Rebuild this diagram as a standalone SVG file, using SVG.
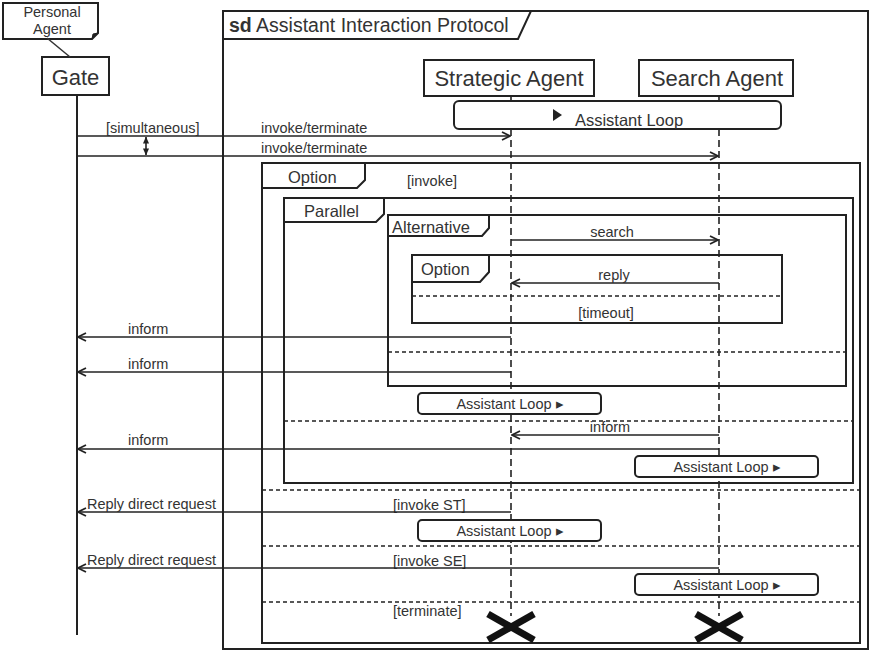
<svg xmlns="http://www.w3.org/2000/svg" width="872" height="651" viewBox="0 0 872 651">
<defs>
<style>
text{font-family:"Liberation Sans",Arial,sans-serif;fill:#333}
.frm{fill:none;stroke:#222;stroke-width:2}
.tab{fill:#fff;stroke:#222;stroke-width:2}
.box{fill:#fff;stroke:#222;stroke-width:2}
.msg{fill:none;stroke:#222;stroke-width:1.6;marker-end:url(#arr)}
.sep{fill:none;stroke:#222;stroke-width:1.6;stroke-dasharray:4 3}
.life{fill:none;stroke:#222;stroke-width:1.6;stroke-dasharray:7 4}
.m{font-size:14.5px}
.lbl{font-size:16.5px}
.al{font-size:14.5px}
.name{font-size:22px}
.loop{fill:#fff;stroke:#222;stroke-width:2}
.x{stroke:#111;stroke-width:7;stroke-linecap:butt}
</style>
<marker id="arr" viewBox="0 0 10 10" refX="9" refY="5" markerWidth="10" markerHeight="10" markerUnits="userSpaceOnUse" orient="auto-start-reverse">
<path d="M1,1 L9,5 L1,9" fill="none" stroke="#222" stroke-width="1.8"/>
</marker>
<marker id="sarr" viewBox="0 0 8 8" refX="7.5" refY="4" markerWidth="7" markerHeight="7" markerUnits="userSpaceOnUse" orient="auto-start-reverse">
<path d="M0,0.5 L8,4 L0,7.5 Z" fill="#222"/>
</marker>
</defs>

<g id="sd-frame">
<rect class="frm" x="223" y="11" width="645" height="638"/>
<path class="tab" d="M223,11 H531 L518,39 H223 Z"/>
<text x="229" y="32" font-size="19.5"><tspan font-weight="bold">sd</tspan> Assistant Interaction Protocol</text>
</g>

<g id="personal-agent">
<path class="box" d="M3,3 H98 V33 L92,39 H3 Z"/>
<path d="M92,39 L98,33 L93,34 Z" fill="#222" stroke="#222" stroke-width="1"/>
<text x="52" y="17" font-size="14.5" text-anchor="middle">Personal</text>
<text x="52" y="34" font-size="14.5" text-anchor="middle">Agent</text>
</g>

<g id="gate">
<rect class="box" x="42" y="57" width="67" height="38"/>
<text class="name" x="75.5" y="85" text-anchor="middle">Gate</text>
</g>

<g id="strategic-agent">
<rect class="box" x="424" y="60" width="170" height="36"/>
<text class="name" x="509" y="86" text-anchor="middle">Strategic Agent</text>
</g>

<g id="search-agent">
<rect class="box" x="639" y="60" width="154" height="36"/>
<text class="name" x="717" y="86" text-anchor="middle">Search Agent</text>
</g>

<g id="lifelines">
<line x1="77" y1="95" x2="77" y2="635" stroke="#222" stroke-width="2"/>
<line class="life" x1="511" y1="96" x2="511" y2="616"/>
<line class="life" x1="719" y1="96" x2="719" y2="616"/>
<line x1="47" y1="38" x2="70" y2="57" stroke="#333" stroke-width="1.5"/>
</g>

<g id="option-frame">
<rect class="frm" x="262" y="163" width="598" height="480"/>
<path class="tab" d="M262,163 H365 V180 L357,188 H262 Z"/>
<text class="lbl" x="288" y="183">Option</text>
<text class="m" x="407" y="186">[invoke]</text>
<line class="sep" x1="262" y1="490" x2="860" y2="490"/>
<line class="sep" x1="262" y1="546" x2="860" y2="546"/>
<line class="sep" x1="262" y1="602" x2="860" y2="602"/>
<text class="m" x="393" y="510">[invoke ST]</text>
<text class="m" x="393" y="566">[invoke SE]</text>
<text class="m" x="393" y="616">[terminate]</text>
</g>

<g id="parallel-frame">
<rect class="frm" x="284" y="198" width="569" height="285"/>
<path class="tab" d="M284,198 H384 V214 L376,222 H284 Z"/>
<text class="lbl" x="304" y="217">Parallel</text>
<line class="sep" x1="284" y1="421" x2="853" y2="421"/>
</g>

<g id="alternative-frame">
<rect class="frm" x="388" y="215" width="458" height="171"/>
<path class="tab" d="M388,215 H489 V228 L482,236 H388 Z"/>
<text class="lbl" x="392" y="233">Alternative</text>
<line class="sep" x1="388" y1="352" x2="846" y2="352"/>
</g>

<g id="inner-option-frame">
<rect class="frm" x="412" y="255" width="370" height="68"/>
<path class="tab" d="M412,255 H489 V272 L480,282 H412 Z"/>
<text class="lbl" x="421" y="275">Option</text>
<line class="sep" x1="412" y1="296" x2="782" y2="296"/>
<text class="m" x="606" y="318" text-anchor="middle">[timeout]</text>
</g>

<g id="loop-top">
<rect class="loop" x="454" y="101" width="327" height="28" rx="5"/>
<polygon points="553,109 562,115 553,121" fill="#222"/>
<text x="629" y="126" font-size="16.5" text-anchor="middle">Assistant Loop</text>
</g>

<g id="loop-1">
<rect class="loop" x="418" y="393" width="183" height="21" rx="4"/>
<text class="al" x="510" y="409" text-anchor="middle">Assistant Loop ▸</text>
</g>
<g id="loop-2">
<rect class="loop" x="635" y="456" width="183" height="21" rx="4"/>
<text class="al" x="727" y="472" text-anchor="middle">Assistant Loop ▸</text>
</g>
<g id="loop-3">
<rect class="loop" x="418" y="520" width="183" height="21" rx="4"/>
<text class="al" x="510" y="536" text-anchor="middle">Assistant Loop ▸</text>
</g>
<g id="loop-4">
<rect class="loop" x="635" y="574" width="183" height="21" rx="4"/>
<text class="al" x="727" y="590" text-anchor="middle">Assistant Loop ▸</text>
</g>

<g id="connectors">
<line class="msg" x1="77" y1="136" x2="510" y2="136"/>
<line class="msg" x1="77" y1="156" x2="718" y2="156"/>
<line x1="146" y1="137" x2="146" y2="155" stroke="#222" stroke-width="1.6" marker-start="url(#sarr)" marker-end="url(#sarr)"/>
<line class="msg" x1="511" y1="240" x2="718" y2="240"/>
<line class="msg" x1="719" y1="283" x2="512" y2="283"/>
<line class="msg" x1="511" y1="337" x2="78" y2="337"/>
<line class="msg" x1="511" y1="372" x2="78" y2="372"/>
<line class="msg" x1="719" y1="435" x2="512" y2="435"/>
<line class="msg" x1="719" y1="449" x2="78" y2="449"/>
<line class="msg" x1="511" y1="512" x2="78" y2="512"/>
<line class="msg" x1="719" y1="568" x2="78" y2="568"/>
</g>

<g id="message-labels">
<text class="m" x="106" y="133">[simultaneous]</text>
<text class="m" x="261" y="133">invoke/terminate</text>
<text class="m" x="261" y="153">invoke/terminate</text>
<text class="m" x="612" y="237" text-anchor="middle">search</text>
<text class="m" x="614" y="280" text-anchor="middle">reply</text>
<text class="m" x="128" y="334">inform</text>
<text class="m" x="128" y="369">inform</text>
<text class="m" x="610" y="432" text-anchor="middle">inform</text>
<text class="m" x="128" y="445">inform</text>
<text class="m" x="87" y="509">Reply direct request</text>
<text class="m" x="87" y="565">Reply direct request</text>
</g>

<g id="destructions">
<line class="x" x1="488" y1="614" x2="534" y2="640"/>
<line class="x" x1="488" y1="640" x2="534" y2="614"/>
<line class="x" x1="696" y1="614" x2="742" y2="640"/>
<line class="x" x1="696" y1="640" x2="742" y2="614"/>
</g>
</svg>
